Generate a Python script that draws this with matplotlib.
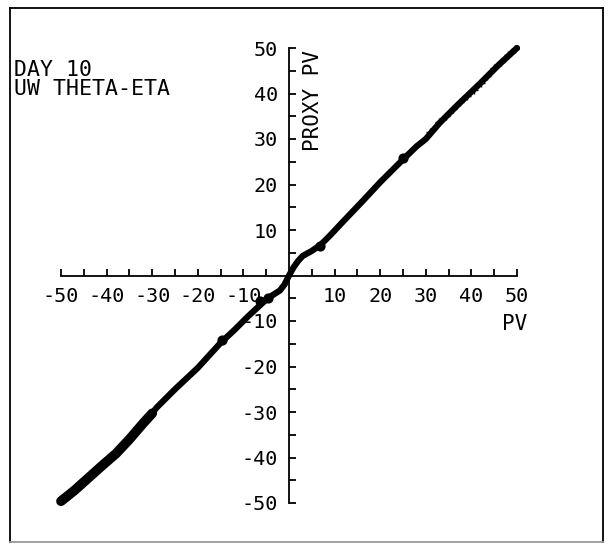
import matplotlib
matplotlib.use("Agg")
import matplotlib.pyplot as plt
from matplotlib.lines import Line2D
from matplotlib.ticker import FixedLocator

# ======================
# data
# ======================
pv_main = [-50, -45, -40, -37, -33, -29, -28, -25, -20, -15, -12, -9, -6, -4.5,
           -2, -1, 0, 1, 2, 3, 5, 7, 9, 12, 16, 20, 25, 28, 30, 33, 37, 42, 46, 50]
proxy_main = [-49.5, -45, -41, -38.5, -34, -29, -28, -25, -20.3, -14.8, -12, -9,
              -6.2, -4.9, -3.3, -2, 0, 1.8, 3.2, 4.3, 5.4, 6.8, 8.8, 12, 16.2,
              20.5, 25.5, 28.4, 30, 33.5, 37.5, 42.3, 46.3, 50]

# wide noisy band in the lower left
pv_band = [-50, -47, -44, -41, -38, -35, -32, -30]
proxy_band = [-49.6, -47.2, -44.5, -41.8, -39.2, -36, -32.5, -30.3]

# blobs along the curve
pv_blob = [-14.7, -6.4, -4.6, 6.8, 25]
proxy_blob = [-14.2, -5.6, -4.9, 6.5, 25.8]

# small crosses in the upper part
pv_cross = [31, 33, 34.5, 36, 37.5, 39, 40.5, 42, 43.5, 45, 46.5, 48, 49.5]
proxy_cross = [31.6, 33.8, 35.1, 36.5, 38.1, 39.4, 40.8, 42.4, 43.9, 45.6, 47, 48.4, 49.8]

major_ticks = [-50, -40, -30, -20, -10, 10, 20, 30, 40, 50]
minor_ticks = [-45, -35, -25, -15, -5, 5, 15, 25, 35, 45]

# ======================
# figure
# ======================
W, H = 610, 544
plt.rcParams['font.family'] = ['DejaVu Sans Mono']
plt.rcParams['axes.unicode_minus'] = False
fig = plt.figure(figsize=(W / 100, H / 100), dpi=100)
fs = 14.5

# outer frame
fig.add_artist(Line2D([10 / W, 10 / W], [1 - 8 / H, 1 - 542 / H], color='black', lw=1.3))
fig.add_artist(Line2D([10 / W, 603 / W], [1 - 8 / H, 1 - 8 / H], color='black', lw=1.3))
fig.add_artist(Line2D([603 / W, 603 / W], [1 - 8 / H, 1 - 542 / H], color='black', lw=1.3))
fig.add_artist(Line2D([10 / W, 603 / W], [1 - 542 / H, 1 - 542 / H], color='#999999', lw=1.3))

# axes: x -50..50 -> px 61..517, y 50..-50 -> py 48..503
ax = fig.add_axes([61 / W, 1 - 503 / H, (517 - 61) / W, (503 - 48) / H])
ax.set_xlim(-50, 50)
ax.set_ylim(-50, 50)
ax.patch.set_alpha(0)

for s in ['top', 'right']:
    ax.spines[s].set_visible(False)
ax.spines['left'].set_position('zero')
ax.spines['bottom'].set_position('zero')
for s in ['left', 'bottom']:
    ax.spines[s].set_linewidth(1.3)

ax.xaxis.set_major_locator(FixedLocator(major_ticks))
ax.xaxis.set_minor_locator(FixedLocator(minor_ticks))
ax.yaxis.set_major_locator(FixedLocator(major_ticks))
ax.yaxis.set_minor_locator(FixedLocator(minor_ticks))
ax.tick_params(which='both', direction='in', length=5, width=1.3)
ax.tick_params(axis='x', which='major', pad=8, labelsize=fs)
ax.tick_params(axis='y', which='major', pad=8, labelsize=fs)

# data
ax.plot(pv_main, proxy_main, color='black', lw=4.5, solid_capstyle='round', clip_on=False)
ax.plot(pv_band, proxy_band, color='black', lw=7, solid_capstyle='round', clip_on=False)
ax.scatter(pv_blob, proxy_blob, s=40, color='black', clip_on=False)
ax.scatter(pv_cross, proxy_cross, marker='+', s=30, color='black', lw=1, clip_on=False)

# labels
ax.text(3, 49.5, 'PROXY PV', rotation=90, ha='left', va='top', fontsize=15)
ax.text(52.3, -8.5, 'PV', ha='right', va='top', fontsize=15)
fig.text(14 / W, 1 - 60 / H, 'DAY 10', ha='left', va='top', fontsize=15.5)
fig.text(14 / W, 1 - 79 / H, 'UW THETA-ETA', ha='left', va='top', fontsize=15.5)

fig.savefig('out.png', dpi=100)
